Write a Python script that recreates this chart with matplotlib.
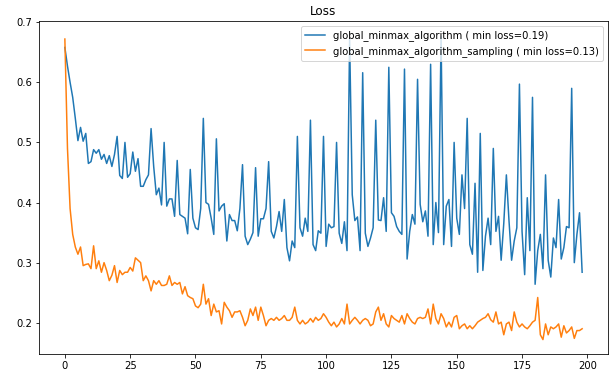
import numpy as np
import matplotlib
matplotlib.use("Agg")
import matplotlib.pyplot as plt

# loss values per epoch
loss_minmax = [
    0.658, 0.627, 0.600, 0.575, 0.540, 0.503, 0.525, 0.502, 0.515, 0.465,
    0.468, 0.488, 0.482, 0.488, 0.472, 0.480, 0.465, 0.478, 0.460, 0.480,
    0.510, 0.445, 0.440, 0.500, 0.442, 0.448, 0.484, 0.452, 0.473, 0.427,
    0.427, 0.438, 0.446, 0.523, 0.460, 0.413, 0.424, 0.396, 0.500, 0.394,
    0.406, 0.406, 0.377, 0.470, 0.380, 0.377, 0.374, 0.348, 0.455, 0.374,
    0.358, 0.355, 0.390, 0.540, 0.400, 0.397, 0.374, 0.347, 0.506, 0.386,
    0.394, 0.398, 0.336, 0.380, 0.370, 0.370, 0.353, 0.390, 0.463, 0.344,
    0.330, 0.339, 0.350, 0.458, 0.344, 0.373, 0.373, 0.390, 0.468, 0.352,
    0.341, 0.360, 0.385, 0.352, 0.405, 0.325, 0.303, 0.336, 0.325, 0.510, 0.358,
    0.344, 0.374, 0.352, 0.537, 0.330, 0.320, 0.353, 0.349, 0.510, 0.327,
    0.364, 0.358, 0.360, 0.500, 0.349, 0.332, 0.368, 0.320, 0.672, 0.413,
    0.370, 0.376, 0.320, 0.616, 0.349, 0.327, 0.341, 0.358, 0.537, 0.371,
    0.370, 0.408, 0.352, 0.625, 0.383, 0.377, 0.360, 0.352, 0.347, 0.622, 0.306,
    0.352, 0.380, 0.364, 0.605, 0.397, 0.368, 0.386, 0.344, 0.630, 0.330,
    0.400, 0.350, 0.676, 0.330, 0.394, 0.405, 0.327, 0.500, 0.374, 0.347,
    0.446, 0.390, 0.540, 0.330, 0.314, 0.432, 0.284, 0.515, 0.287, 0.344,
    0.374, 0.330, 0.490, 0.352, 0.377, 0.304, 0.365, 0.446, 0.370, 0.304, 0.336,
    0.358, 0.597, 0.352, 0.280, 0.408, 0.320, 0.575, 0.264, 0.320, 0.347,
    0.290, 0.446, 0.304, 0.276, 0.341, 0.325, 0.405, 0.306, 0.325, 0.360,
    0.358, 0.590, 0.300, 0.347, 0.383, 0.284,
]

loss_sampling = [
    0.672, 0.490, 0.390, 0.347, 0.326, 0.314, 0.326, 0.295, 0.297, 0.298,
    0.290, 0.328, 0.290, 0.303, 0.284, 0.300, 0.287, 0.270, 0.279, 0.295,
    0.267, 0.287, 0.280, 0.284, 0.284, 0.292, 0.286, 0.308, 0.304, 0.300,
    0.270, 0.278, 0.270, 0.253, 0.270, 0.264, 0.270, 0.262, 0.262, 0.264,
    0.278, 0.262, 0.267, 0.264, 0.267, 0.248, 0.260, 0.245, 0.242, 0.240,
    0.228, 0.225, 0.231, 0.264, 0.231, 0.240, 0.212, 0.231, 0.218, 0.220,
    0.198, 0.234, 0.226, 0.220, 0.209, 0.218, 0.218, 0.220, 0.209, 0.195,
    0.204, 0.223, 0.212, 0.226, 0.204, 0.226, 0.212, 0.195, 0.204, 0.207,
    0.204, 0.209, 0.204, 0.207, 0.212, 0.204, 0.204, 0.209, 0.226, 0.204, 0.198,
    0.204, 0.198, 0.201, 0.207, 0.201, 0.209, 0.204, 0.207, 0.215, 0.209,
    0.201, 0.195, 0.201, 0.193, 0.198, 0.207, 0.198, 0.231, 0.198, 0.204,
    0.209, 0.204, 0.198, 0.204, 0.207, 0.204, 0.195, 0.198, 0.218, 0.226,
    0.204, 0.215, 0.198, 0.193, 0.212, 0.207, 0.204, 0.201, 0.212, 0.198, 0.215,
    0.207, 0.201, 0.198, 0.207, 0.209, 0.207, 0.209, 0.223, 0.198, 0.231,
    0.207, 0.198, 0.215, 0.207, 0.193, 0.201, 0.193, 0.209, 0.212, 0.190,
    0.195, 0.198, 0.190, 0.195, 0.190, 0.195, 0.201, 0.204, 0.207, 0.209,
    0.215, 0.205, 0.201, 0.218, 0.198, 0.201, 0.180, 0.198, 0.201, 0.187, 0.218,
    0.201, 0.193, 0.198, 0.193, 0.190, 0.195, 0.201, 0.204, 0.242, 0.180,
    0.172, 0.198, 0.180, 0.193, 0.190, 0.193, 0.198, 0.176, 0.195, 0.183,
    0.187, 0.193, 0.174, 0.187, 0.187, 0.190,
]

labels = [
    "global_minmax_algorithm ( min loss=0.19)",
    "global_minmax_algorithm_sampling ( min loss=0.13)",
]

# dpi 72 so point sizes equal pixel sizes like the notebook output
fig = plt.figure(figsize=(615 / 72, 375 / 72), dpi=72)
ax = fig.add_axes([39 / 615, 21 / 375, 569 / 615, 333 / 375])

ax.plot(np.arange(len(loss_minmax)), loss_minmax, label=labels[0])
ax.plot(np.arange(len(loss_sampling)), loss_sampling, label=labels[1])
ax.set_ylim(0.148, 0.702)
ax.set_title("Loss")
ax.legend(loc="upper right")

fig.savefig("out.png", dpi=72)
